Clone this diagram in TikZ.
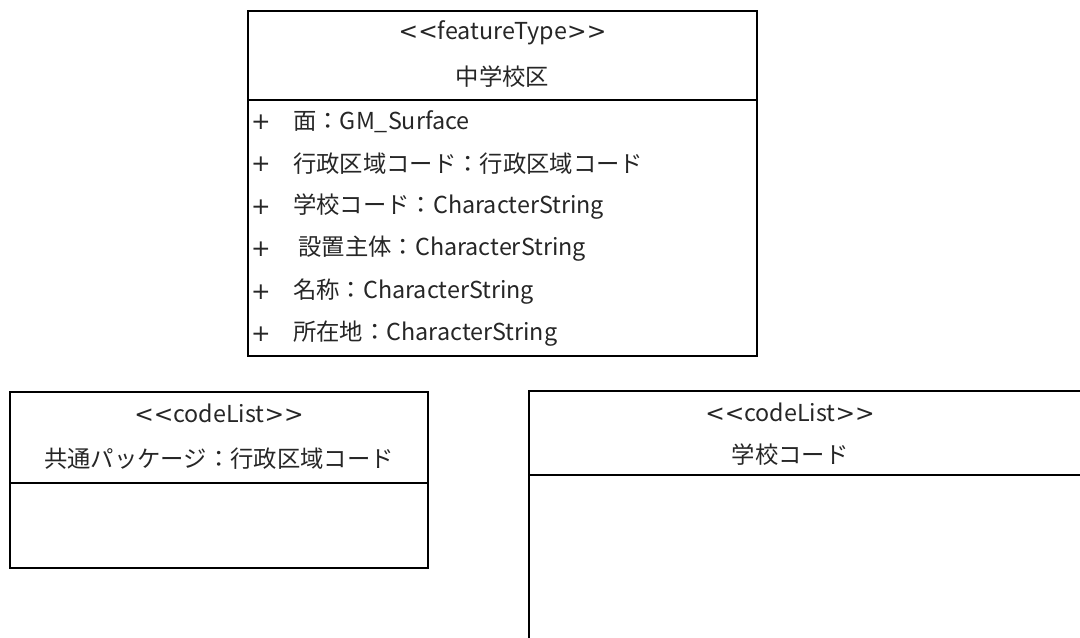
\documentclass[tikz,border=0pt]{standalone}
\usepackage{fontspec}
\setmainfont{Noto Sans CJK JP}
\newfontfamily\symfont{DejaVu Sans}[Ligatures=NoCommon]
\begin{document}
\begin{tikzpicture}[x=0.75pt,y=-0.75pt,
  boxline/.style={line width=1.6pt,black},
  label/.style={inner sep=0pt,font=\fontsize{17.5pt}{19pt}\selectfont,text=black!85},
  attr/.style={label,anchor=west}]
\useasboundingbox (0,0) rectangle (1080,637);
\clip (0,0) rectangle (1080,637);
% top class
\draw[boxline] (248,11) rectangle (757,356);
\draw[boxline] (248,100) -- (757,100);
\node[label] (ft) at (502.5,33) {{\symfont{<}{<}}featureType{\symfont{>}{>}}};
\node[label] (ftname) at (502.5,77) {中学校区};
\foreach \yy/\nm/\txt in {122/a1/面：GM\_Surface, 164/a2/行政区域コード：行政区域コード, 207/a3/学校コード：CharacterString, 249/a4/\ 設置主体：CharacterString, 292/a5/名称：CharacterString, 334/a6/所在地：CharacterString}{
  \node[label] (p\nm) at (261,\yy) {\symfont +};
  \node[attr] (\nm) at (293,\yy) {\txt};
}
% left code list
\draw[boxline] (10,392) rectangle (428,568);
\draw[boxline] (10,483) -- (428,483);
\node[label] (cl1) at (219,413) {{\symfont{<}{<}}codeList{\symfont{>}{>}}};
\node[label] (cl1name) at (219,459) {共通パッケージ：行政区域コード};
% right code list
\draw[boxline] (529,391) rectangle (1100,660);
\draw[boxline] (529,475) -- (1100,475);
\node[label] (cl2) at (790,412) {{\symfont{<}{<}}codeList{\symfont{>}{>}}};
\node[label] (cl2name) at (790,455) {学校コード};
\end{tikzpicture}
\end{document}
